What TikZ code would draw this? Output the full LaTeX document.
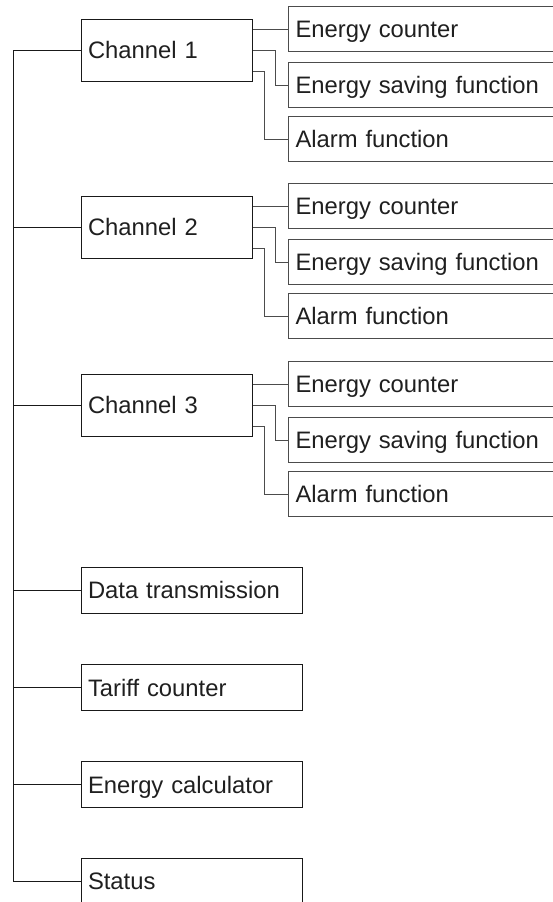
\documentclass[tikz,border=0pt]{standalone}
\usepackage{fontspec}
\setmainfont{Liberation Sans}
\begin{document}
\begin{tikzpicture}[x=1pt,y=-1pt,
  font=\fontsize{23.8}{28}\selectfont,
  mainline/.style={draw=black!90, line width=1pt},
  subline/.style={draw=black!70, line width=1pt},
  chbox/.style={mainline, text=black!88, minimum height=62pt, text width=158pt, inner xsep=6.5pt, text depth=0pt, align=left, anchor=west},
  fnbox/.style={subline, text=black!88, minimum height=45pt, text width=300pt, inner xsep=7pt, text depth=0pt, align=left, anchor=west},
  lowbox/.style={mainline, text=black!88, minimum height=46pt, text width=208pt, inner xsep=6.5pt, text depth=0pt, align=left, anchor=west}]
\useasboundingbox (0,0) rectangle (553,902);
\clip (0,0) rectangle (553,902);
\coordinate (t) at (13,50);
\foreach \i/\c in {1/50,2/227,3/405}{
  \node[chbox] (ch\i) at (81,\c) {Channel \i};
  \node[fnbox] (ec\i) at (288,\c-21) {Energy counter};
  \node[fnbox] (es\i) at (288,\c+35) {Energy saving function};
  \node[fnbox] (af\i) at (288,\c+89) {Alarm function};
  \draw[subline] ([yshift=21pt]ch\i.east) -- (ec\i.west);
  \draw[subline] (ch\i.east) -- ++(22,0) |- (es\i.west);
  \draw[subline] ([yshift=-21pt]ch\i.east) -- ++(11,0) |- (af\i.west);
  \draw[mainline] (ch\i.west) -- (ch\i.west -| t);
}
\node[lowbox] (dt) at (81,590) {Data transmission};
\node[lowbox] (tc) at (81,687.5) {Tariff counter};
\node[lowbox] (ecalc) at (81,784.5) {Energy calculator};
\node[lowbox] (st) at (81,881) {Status};
\draw[mainline] (t) |- (st.west);
\foreach \n in {dt,tc,ecalc}{
  \draw[mainline] (\n.west) -- (\n.west -| t);
}
\end{tikzpicture}
\end{document}
